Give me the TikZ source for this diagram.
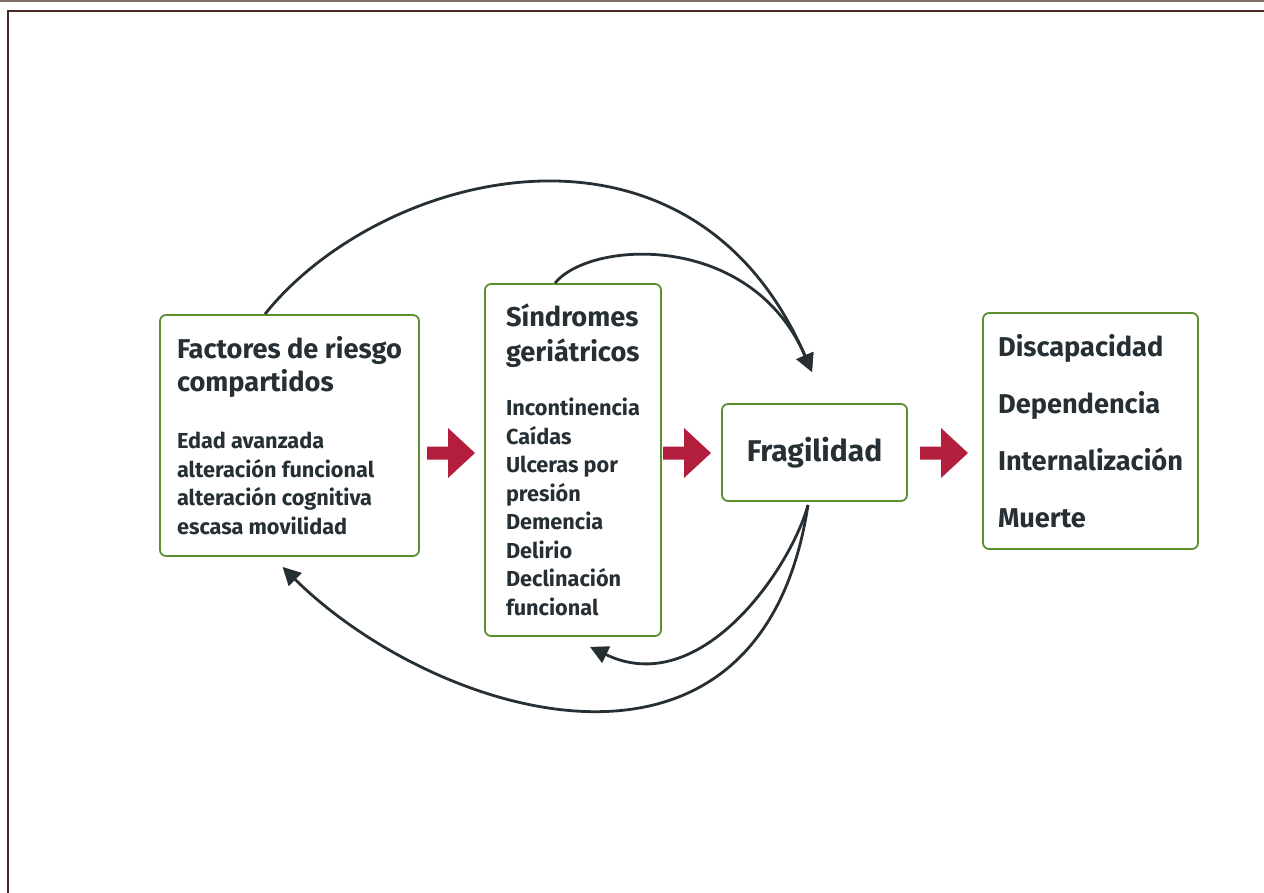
\documentclass[tikz,border=0pt]{standalone}
\usepackage{fontspec}
\setmainfont{Fira Sans}
\usetikzlibrary{arrows.meta}

\definecolor{verde}{HTML}{5B8F2F}
\definecolor{rojo}{HTML}{B31E3D}
\definecolor{texto}{HTML}{262F34}
\definecolor{marco}{HTML}{4A2A22}
\definecolor{marcoclaro}{HTML}{7C6E66}

\newcommand{\titulo}{\fontsize{27.2}{33}\selectfont}
\newcommand{\lista}{\fontsize{21.7}{28.5}\selectfont}

\begin{document}
\begin{tikzpicture}[x=1pt, y=-1pt,
    every node/.style={
        text=texto,
        font=\bfseries\lista},
    caja/.style={
        draw=verde,
        line width=1.8pt,
        rounded corners=6pt,
        align=left,
        inner sep=0pt},
    flecha/.style={
        fill=rojo},
    curva/.style={
        draw=texto,
        line width=2.8pt,
        -{Triangle[length=18pt, width=18pt]}}]

    \useasboundingbox (0,0) rectangle (1264,893);

    % marco
    \draw[marcoclaro, line width=1.5pt] (0,1) -- (1264,1);
    \draw[marco, line width=2.5pt] (8,893) -- (8,11) -- (1264,11);

    \node[caja, minimum width=259pt, minimum height=241pt] (fact) at (289.5,435.5)
        {\titulo Factores de riesgo\\[4.5pt]
         \titulo compartidos\\[28.5pt]
         Edad avanzada\\
         alteración funcional\\
         alteración cognitiva\\
         escasa movilidad};

    \node[caja, minimum width=176pt, minimum height=352pt] (sind) at (573,460)
        {\titulo Síndromes\\[6.5pt]
         \titulo geriátricos\\[25.5pt]
         Incontinencia\\
         Caídas\\
         Ulceras por\\
         presión\\
         Demencia\\
         Delirio\\
         Declinación\\
         funcional};

    \node[caja, minimum width=185pt, minimum height=97pt,
        font=\bfseries\fontsize{30}{35}\selectfont] (frag) at (814.5,452.5) {Fragilidad};

    \node[caja, minimum width=215pt, minimum height=236pt,
        font=\bfseries\fontsize{27.2}{57}\selectfont] (desen) at (1090.5,431)
        {Discapacidad\\
         Dependencia\\
         Internalización\\
         Muerte};

    % flechas rojas entre las cajas
    \foreach \x in {451,687,944}
        \fill[flecha] (\x,453) ++(-24,-6.5) -- ++(21,0) -- ++(0,-18.5)
            -- ++(27,25) -- ++(-27,25) -- ++(0,-18.5) -- ++(-21,0) -- cycle;

    \coordinate (fragin) at (812,372);
    \coordinate (fragout) at (808,505);

    \draw[curva] ([xshift=-24.5pt]fact.north) .. controls (380,170) and (690,90) .. (fragin);
    \draw[curva] ([xshift=-18pt]sind.north) .. controls (590,240) and (751,231) .. (fragin);
    \draw[curva] (fragout) .. controls (790,570) and (700,700) .. ([xshift=17pt, yshift=-10pt]sind.south);
    \draw[curva] (fragout) .. controls (760,820) and (433,716) .. ([xshift=-7pt, yshift=-10pt]fact.south);
\end{tikzpicture}
\end{document}
